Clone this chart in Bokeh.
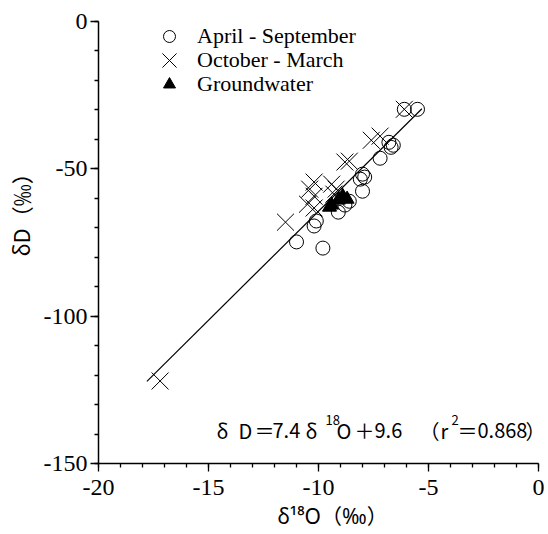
import math
from bokeh.plotting import figure
from bokeh.models import Label, Legend, LegendItem, FixedTicker, Title
from bokeh.embed import file_html
from bokeh.resources import INLINE

# ---- data ----
apr_sep_o18 = [-5.5, -6.1, -6.8, -6.6, -6.7, -7.2, -8.0, -7.9, -8.1, -8.0,
               -8.6, -8.8, -9.1, -10.1, -10.2, -11.0, -9.8]
apr_sep_d = [-29.8, -29.8, -41.0, -42.0, -42.7, -46.4, -51.8, -52.8, -53.5, -57.6,
             -61.0, -62.3, -64.7, -67.7, -69.4, -74.8, -76.9]

oct_mar_o18 = [-6.1, -7.6, -7.2, -8.8, -8.6, -10.2, -10.4, -9.4, -9.2, -10.2,
               -10.5, -10.2, -11.5, -9.3, -17.2]
oct_mar_d = [-29.8, -40.3, -38.9, -47.7, -47.4, -54.5, -56.9, -55.2, -56.9, -59.3,
             -62.0, -63.3, -68.1, -58.6, -122.0]

gw_o18 = [-8.9, -9.1, -9.4, -8.7, -9.5]
gw_d = [-59.3, -60.6, -62.3, -60.3, -63.0]

fit_slope = 7.4
fit_intercept = 9.6
fit_x = [-17.8, -5.3]

x_ticks = [-20, -15, -10, -5, 0]
x_tick_labels = ["-20", "-15", "-10", "-5", "0"]
y_ticks = [-150, -100, -50, 0]
y_tick_labels = ["-150", "-100", "-50", "0"]

legend_labels = ["April - September", "October - March", "Groundwater"]
x_title = "δ¹⁸O（‰）"
y_title = "δD（‰）"

# ---- figure ----
OFF = 1            # observed page offset of the canvas
W, H = 546, 532
ML, MR, MT, MB = 98, 8, 21, 68
p = figure(width=W, height=H, x_range=(-20, 0), y_range=(-150, 0),
           output_backend="svg", toolbar_location=None,
           min_border_left=ML, min_border_right=MR,
           min_border_top=MT, min_border_bottom=MB)
p.outline_line_color = None
p.xgrid.grid_line_color = None
p.ygrid.grid_line_color = None
p.background_fill_color = "white"
p.border_fill_color = "white"

FW = W - ML - MR
FH = H - MT - MB

def px2x(px):
    return -20 + (px - OFF - ML) * 20.0 / FW

def py2y(py):
    return -(py - OFF - MT) * 150.0 / FH

SANS = "Noto Sans CJK JP"
SANS_SUP = "'Noto Sans', 'Noto Sans CJK JP'"

for ax in (p.xaxis[0], p.yaxis[0]):
    ax.axis_line_width = 1.5
    ax.axis_line_color = "black"
    ax.major_tick_line_color = "black"
    ax.minor_tick_line_color = "black"
    ax.major_tick_line_width = 1.3
    ax.minor_tick_line_width = 1.3
    ax.major_tick_in = 0
    ax.major_tick_out = 8
    ax.minor_tick_in = 0
    ax.minor_tick_out = 4
    ax.major_label_text_font = "Liberation Serif"
    ax.major_label_text_font_size = "24px"
    ax.major_label_text_color = "black"
    ax.axis_label = None

p.xaxis.ticker = FixedTicker(ticks=x_ticks, minor_ticks=list(range(-20, 1)))
p.xaxis.major_label_overrides = {t: s for t, s in zip(x_ticks, x_tick_labels)}
p.xaxis.major_label_standoff = 8
p.yaxis.ticker = FixedTicker(ticks=y_ticks, minor_ticks=list(range(-150, 1, 10)))
p.yaxis.major_label_overrides = {t: s for t, s in zip(y_ticks, y_tick_labels)}
p.yaxis.major_label_standoff = 3

# axis titles (left-aligned with a pixel offset from the frame edge)
p.add_layout(Title(text=y_title, align="left", offset=207, standoff=6,
                   vertical_align="top",
                   text_font=SANS, text_font_size="22px",
                   text_font_style="normal", text_color="black"), "left")
p.add_layout(Title(text=x_title, align="left", offset=179, standoff=5,
                   text_font=SANS_SUP, text_font_size="21px",
                   text_font_style="normal", text_color="black"), "below")

# regression line
fit_y = [fit_slope * x + fit_intercept for x in fit_x]
p.line(fit_x, fit_y, line_color="black", line_width=1.2)

r1 = p.scatter(apr_sep_o18, apr_sep_d, marker="circle", size=14,
               fill_color=None, line_color="black", line_width=1)
r2 = p.scatter(oct_mar_o18, oct_mar_d, marker="x", size=24,
               line_color="black", line_width=1)
r3 = p.scatter(gw_o18, gw_d, marker="triangle", size=14,
               fill_color="black", line_color="black")

# legend: one single-row legend per series so rows can sit close together
# (glyph box, left edge, bottom offset, label standoff)
legend_geom = [(30, 56, 412, 13), (50, 46, 378, 3), (30, 56, 364, 13)]
for lbl, rend, (g, left, bottom, so) in zip(legend_labels, [r1, r2, r3], legend_geom):
    lg = Legend(items=[LegendItem(label=lbl, renderers=[rend])],
                location=(left, bottom))
    lg.border_line_color = None
    lg.background_fill_alpha = 0
    lg.padding = 0
    lg.margin = 0
    lg.spacing = 0
    lg.glyph_width = g
    lg.glyph_height = g
    lg.label_height = 20
    lg.label_standoff = so
    lg.label_text_font = "Liberation Serif"
    lg.label_text_font_size = "22px"
    lg.label_text_color = "black"
    p.add_layout(lg)

def lab(text, px, py, size, font=SANS):
    p.add_layout(Label(x=px2x(px), y=py2y(py), text=text, text_font=font,
                       text_font_size=f"{size}px", text_color="black",
                       text_align="left", text_baseline="alphabetic"))

# equation  δD＝7.4δ18O＋9.6 （r2＝0.868）
eq_base = 432
sup_base = 421
lab("δ", 217, eq_base, 20)
lab("D", 239, eq_base, 20)
lab("＝", 255, eq_base, 20)
lab("7.4", 273, eq_base, 20)
lab("δ", 306, eq_base, 20)
lab("18", 326, sup_base, 13)
lab("O", 337, eq_base, 20)
lab("＋", 355, eq_base, 20)
lab("9.6", 375, eq_base, 20)
lab("（", 420, eq_base, 20)
lab("r", 441, eq_base, 20)
lab("2", 452, sup_base, 13)
lab("＝", 458, eq_base, 20)
lab("0.868", 478, eq_base, 20)
lab("）", 526, eq_base, 20)

open("out.html", "w").write(file_html(p, INLINE))
